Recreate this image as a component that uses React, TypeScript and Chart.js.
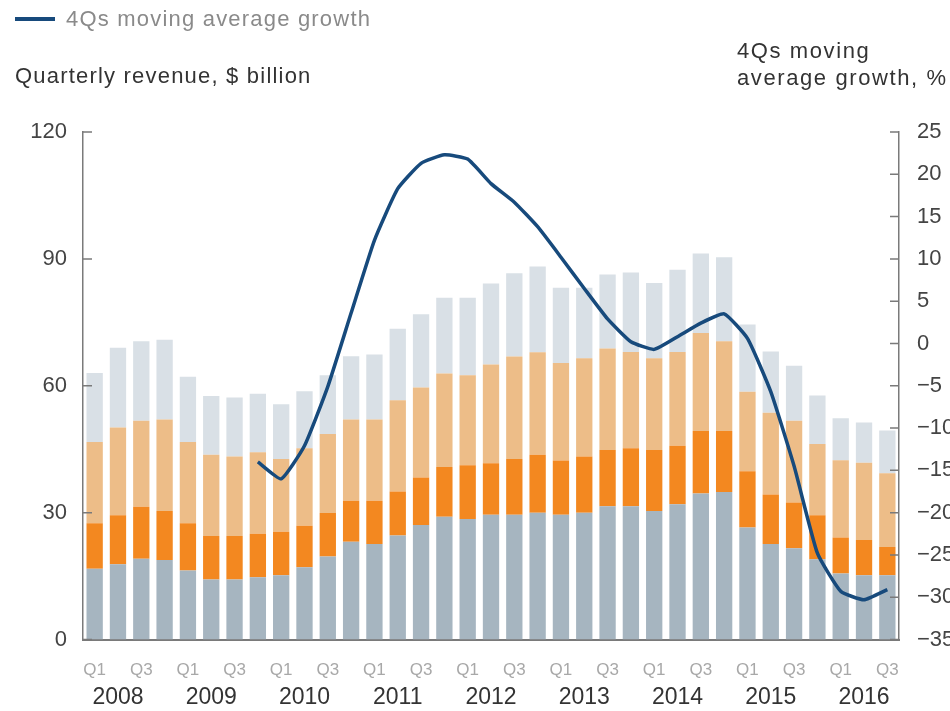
import React, { useEffect, useRef } from "react";
import { Chart, registerables } from "chart.js";

Chart.register(...registerables);

// ---- Data ----
const years = [2008, 2009, 2010, 2011, 2012, 2013, 2014, 2015, 2016];
const quarterNames = ["Q1", "Q2", "Q3", "Q4"];
const categories: string[] = [];
years.forEach((y) => quarterNames.forEach((q) => categories.push(`${y} ${q}`)));
categories.splice(35); // data ends at 2016 Q3

// Stack segments, $ billion (bottom to top)
const segBase = [16.7, 17.8, 19.1, 18.8, 16.3, 14.2, 14.2, 14.7, 15.2, 17.1, 19.6, 23.1, 22.6, 24.6, 27.1, 29.0, 28.5, 29.5, 29.5, 30.0, 29.5, 30.0, 31.5, 31.5, 30.4, 32.0, 34.5, 34.9, 26.5, 22.6, 21.6, 19.0, 15.6, 15.2, 15.2];
const segOrange = [10.8, 11.6, 12.3, 11.6, 11.2, 10.3, 10.3, 10.3, 10.3, 9.8, 10.3, 9.7, 10.2, 10.4, 11.2, 11.8, 12.7, 12.2, 13.2, 13.7, 12.8, 13.3, 13.3, 13.7, 14.4, 13.8, 14.8, 14.4, 13.3, 11.7, 10.8, 10.4, 8.5, 8.3, 6.7];
const segLightOrange = [19.2, 20.7, 20.3, 21.6, 19.2, 19.2, 18.8, 19.3, 17.2, 18.3, 18.7, 19.2, 19.2, 21.6, 21.3, 22.1, 21.3, 23.3, 24.2, 24.2, 23.1, 23.2, 24.0, 22.8, 21.7, 22.2, 23.2, 21.2, 18.8, 19.3, 19.3, 16.8, 18.3, 18.3, 17.4];
const segTop = [16.3, 18.9, 18.8, 18.9, 15.4, 13.9, 13.9, 13.8, 12.9, 13.5, 13.9, 15.0, 15.4, 16.9, 17.3, 17.9, 18.3, 19.2, 19.7, 20.3, 17.8, 16.7, 17.5, 18.8, 17.8, 19.4, 18.8, 19.9, 15.9, 14.5, 13.0, 11.5, 9.9, 9.5, 10.1];

// 4Qs moving average growth, %
const growth: (number | null)[] = [null, null, null, null, null, null, null, -14.0, -16.0, -12.1, -5.1, 3.6, 12.2, 18.3, 21.3, 22.3, 21.8, 18.9, 16.7, 13.8, 10.2, 6.5, 2.9, 0.2, -0.7, 0.8, 2.4, 3.5, 0.6, -5.7, -14.5, -24.8, -29.3, -30.3, -29.1];

const leftTicks = [0, 30, 60, 90, 120];
const rightTicks = [-35, -30, -25, -20, -15, -10, -5, 0, 5, 10, 15, 20, 25];

const FONT = "'Liberation Sans', Arial, Helvetica, sans-serif";
const AXIS_COLOR = "#7a7a7a";

const inwardTicks = {
  id: "inwardTicks",
  afterDatasetsDraw(chart: any) {
    const { ctx, chartArea } = chart;
    const y = chart.scales.y;
    const y1 = chart.scales.y1;
    ctx.save();
    ctx.strokeStyle = AXIS_COLOR;
    ctx.lineWidth = 1.5;
    ctx.beginPath();
    leftTicks.forEach((v) => {
      const py = y.getPixelForValue(v);
      ctx.moveTo(chartArea.left, py);
      ctx.lineTo(chartArea.left + 9, py);
    });
    rightTicks.forEach((v) => {
      const py = y1.getPixelForValue(v);
      ctx.moveTo(chartArea.right, py);
      ctx.lineTo(chartArea.right - 9, py);
    });
    ctx.stroke();
    ctx.restore();
  },
};

export default function App() {
  const canvasRef = useRef<HTMLCanvasElement | null>(null);

  useEffect(() => {
    if (!canvasRef.current) return;
    Chart.defaults.font.family = FONT;
    const chart = new Chart(canvasRef.current, {
      type: "bar",
      data: {
        labels: categories,
        datasets: [
          {
            type: "line",
            label: "4Qs moving average growth",
            data: growth,
            yAxisID: "y1",
            borderColor: "#174a7c",
            borderWidth: 3.5,
            pointRadius: 0,
            tension: 0.15,
            order: 0,
          } as any,
          { label: "s1", data: segBase, backgroundColor: "#a6b5c0", stack: "s", order: 1, barPercentage: 0.7, categoryPercentage: 1 },
          { label: "s2", data: segOrange, backgroundColor: "#f38820", stack: "s", order: 1, barPercentage: 0.7, categoryPercentage: 1 },
          { label: "s3", data: segLightOrange, backgroundColor: "#edbd88", stack: "s", order: 1, barPercentage: 0.7, categoryPercentage: 1 },
          { label: "s4", data: segTop, backgroundColor: "#d9e0e6", stack: "s", order: 1, barPercentage: 0.7, categoryPercentage: 1 },
        ],
      },
      options: {
        animation: false,
        responsive: false,
        devicePixelRatio: 1,
        layout: { padding: { top: 132, left: 0, right: 0, bottom: 0 } },
        plugins: { legend: { display: false }, tooltip: { enabled: false } },
        scales: {
          x: {
            type: "category",
            stacked: true,
            position: "bottom",
            weight: 0,
            grid: { display: false, drawTicks: false },
            border: { display: true, color: AXIS_COLOR, width: 2 },
            ticks: {
              autoSkip: false,
              maxRotation: 0,
              minRotation: 0,
              padding: 21,
              color: "#a8a8a8",
              font: { size: 17 },
              callback: (_v: any, i: number) => (i % 4 === 0 ? "Q1" : i % 4 === 2 ? "Q3" : ""),
            },
            afterFit: (s: any) => {
              s.height = 40;
            },
          },
          x2: {
            type: "category",
            position: "bottom",
            weight: 1,
            grid: { display: false, drawTicks: false },
            border: { display: false },
            ticks: {
              autoSkip: false,
              maxRotation: 0,
              minRotation: 0,
              padding: 4,
              color: "#333333",
              font: { size: 23 },
              callback: (_v: any, i: number) => (i % 4 === 1 ? String(years[Math.floor(i / 4)]) : ""),
            },
            afterFit: (s: any) => {
              s.height = 31.5;
            },
          },
          y: {
            type: "linear",
            stacked: true,
            position: "left",
            min: 0,
            max: 120,
            grid: { display: false, drawTicks: false },
            border: { display: true, color: AXIS_COLOR, width: 1.5 },
            afterBuildTicks: (s: any) => {
              s.ticks = leftTicks.map((v) => ({ value: v }));
            },
            ticks: { padding: 16, color: "#444444", font: { size: 22 } },
            afterFit: (s: any) => {
              s.width = 83;
            },
          },
          y1: {
            type: "linear",
            position: "right",
            min: -35,
            max: 25,
            grid: { display: false, drawTicks: false },
            border: { display: true, color: AXIS_COLOR, width: 1.5 },
            afterBuildTicks: (s: any) => {
              s.ticks = rightTicks.map((v) => ({ value: v }));
            },
            ticks: {
              padding: 18,
              color: "#444444",
              font: { size: 22 },
              callback: (v: any) => (Number(v) < 0 ? "\u2212" + Math.abs(Number(v)) : String(v)),
            },
            afterFit: (s: any) => {
              s.width = 51;
            },
          },
        },
      } as any,
      plugins: [inwardTicks],
    });
    return () => chart.destroy();
  }, []);

  const text: React.CSSProperties = {
    position: "absolute",
    fontFamily: FONT,
    fontSize: 22,
    lineHeight: "22px",
    whiteSpace: "nowrap",
  };

  return (
    <div style={{ position: "absolute", left: 0, top: 0, width: 950, height: 711, background: "#fff", overflow: "hidden" }}>
      <canvas ref={canvasRef} width={950} height={711} style={{ position: "absolute", left: 0, top: 0, width: 950, height: 711 }} />
      <div style={{ position: "absolute", left: 15, top: 17, width: 40, height: 4, background: "#174a7c" }} />
      <div style={{ ...text, left: 66, top: 8, color: "#8a8a8a", letterSpacing: "1.2px" }}>4Qs moving average growth</div>
      <div style={{ ...text, left: 15, top: 65, color: "#333", letterSpacing: "1.2px" }}>Quarterly revenue, $ billion</div>
      <div style={{ ...text, left: 737, top: 37, color: "#333", lineHeight: "27px", letterSpacing: "1.6px" }}>
        4Qs moving
        <br />
        average growth, %
      </div>
    </div>
  );
}
